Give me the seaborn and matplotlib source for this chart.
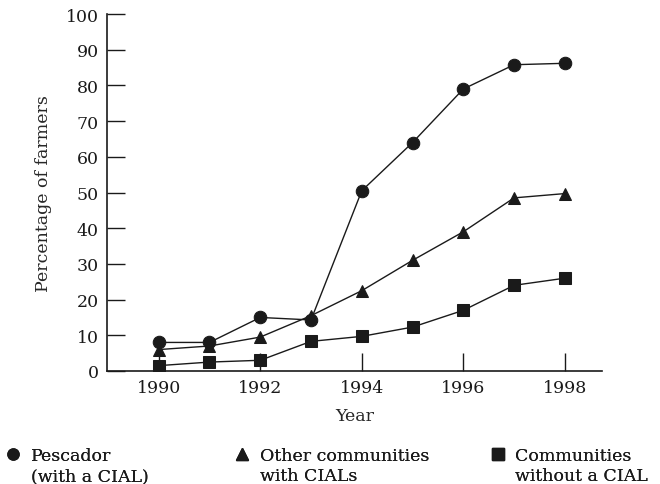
import pandas as pd
import matplotlib
matplotlib.use("Agg")
import matplotlib.pyplot as plt
from matplotlib.lines import Line2D
import seaborn as sns

years = [1990, 1991, 1992, 1993, 1994, 1995, 1996, 1997, 1998]
pescador = [8, 8, 15, 14.3, 50.5, 64, 79, 85.8, 86.2]
other_cials = [6, 7, 9.5, 15.5, 22.5, 31, 39, 48.5, 49.7]
without_cial = [1.5, 2.5, 3, 8.3, 9.7, 12.3, 17, 24, 26]
groups = ['Pescador (with a CIAL)', 'Other communities with CIALs', 'Communities without a CIAL']
legend_lines = [('Pescador', '(with a CIAL)'),
                ('Other communities', 'with CIALs'),
                ('Communities', 'without a CIAL')]
markers = ['o', '^', 's']

df = pd.DataFrame({
    'year': years * 3,
    'pct': pescador + other_cials + without_cial,
    'group': [groups[0]] * 9 + [groups[1]] * 9 + [groups[2]] * 9,
})

sns.set_style('ticks')
plt.rcParams['font.family'] = ['DejaVu Serif']
plt.rcParams['text.color'] = '#1a1a1a'

fig = plt.figure(figsize=(6.6, 4.85), dpi=100)
ax = fig.add_axes([0.162, 0.233, 0.75, 0.736])

sns.lineplot(data=df, x='year', y='pct', hue='group', style='group',
             markers=markers, dashes=False,
             palette=['#1a1a1a'] * 3, markersize=9, linewidth=1,
             markeredgecolor='#1a1a1a', legend=False, ax=ax)

ax.set_xlim(1988.98, 1998.73)
ax.set_ylim(0, 100)
ax.set_xticks([1990, 1992, 1994, 1996, 1998])
ax.set_yticks(range(0, 101, 10))
ax.tick_params(direction='in', length=13, width=1, labelsize=12.5, colors='#1a1a1a', pad=6)
sns.despine(ax=ax)
for s in ['left', 'bottom']:
    ax.spines[s].set_linewidth(1.2)
    ax.spines[s].set_color('#1a1a1a')
ax.set_xlabel('Year', fontsize=12.5, labelpad=8)
ax.set_ylabel('Percentage of farmers', fontsize=12.5, labelpad=10)

# three separate legend blocks under the plot
legend_x = [0.011, 0.358, 0.745]
blank = Line2D([], [], linestyle='none')
for m, (l1, l2), lx in zip(markers, legend_lines, legend_x):
    h = Line2D([], [], marker=m, linestyle='none', color='#1a1a1a', markersize=8)
    leg = fig.legend([h, blank], [l1, l2], loc='upper left', bbox_to_anchor=(lx, 0.077),
                     frameon=False, fontsize=12.5, handlelength=0.7, handletextpad=0.65,
                     labelspacing=0.2, borderpad=0, borderaxespad=0)
    fig.add_artist(leg)

fig.savefig('out.png', dpi=100)
